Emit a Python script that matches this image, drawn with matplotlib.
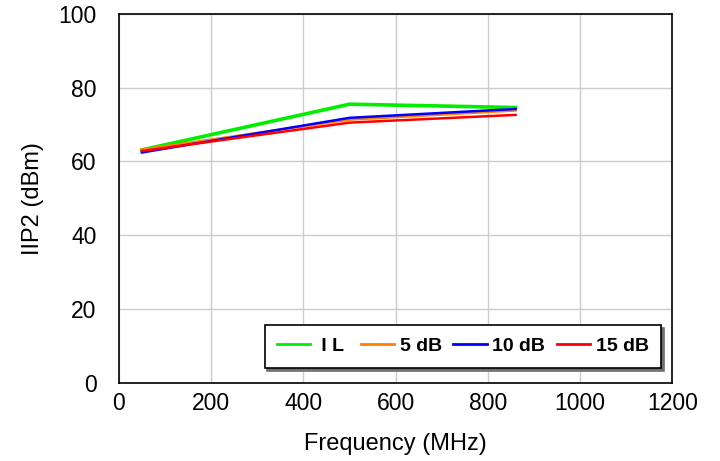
import numpy as np
import matplotlib.pyplot as plt

# frequency points (MHz)
freq = [50, 500, 860]

# IIP2 values (dBm)
iip2_il = [63.1, 75.5, 74.6]
iip2_5db = [63.2, 71.3, 73.8]
iip2_10db = [62.4, 71.8, 74.2]
iip2_15db = [62.8, 70.5, 72.6]

labels = [" I L ", "5 dB", "10 dB", "15 dB"]
colors = ["#00EE00", "#FF8000", "#0000FF", "#FF0000"]

plt.rcParams['font.family'] = ['Liberation Sans', 'DejaVu Sans']

fig = plt.figure(figsize=(7.2, 4.61), dpi=100)
ax = fig.add_axes([0.165, 0.170, 0.769, 0.800])

ax.plot(freq, iip2_il, color=colors[0], lw=2.6, label=labels[0], zorder=3)
ax.plot(freq, iip2_5db, color=colors[1], lw=1.8, label=labels[1], zorder=3)
ax.plot(freq, iip2_10db, color=colors[2], lw=1.8, label=labels[2], zorder=3)
ax.plot(freq, iip2_15db, color=colors[3], lw=1.8, label=labels[3], zorder=4)

ax.set_xlim(0, 1200)
ax.set_ylim(0, 100)
ax.set_xticks(np.arange(0, 1201, 200))
ax.set_yticks(np.arange(0, 101, 20))
ax.grid(True, color="#cccccc", lw=1.0)
ax.set_axisbelow(True)
ax.tick_params(length=0, labelsize=16.5)
ax.tick_params(axis='y', pad=16)
ax.tick_params(axis='x', pad=7)
for sp in ax.spines.values():
    sp.set_color("black")
    sp.set_linewidth(1.2)

ax.set_xlabel("Frequency (MHz)", fontsize=17, labelpad=13)
ax.set_ylabel("IIP2 (dBm)", fontsize=17, labelpad=10)

leg = ax.legend(loc="lower right", ncol=4, fancybox=False, shadow={'color': '#707070', 'alpha': 1},
                edgecolor="black", framealpha=1, prop={'weight': 'bold', 'size': 14},
                handlelength=1.7, handletextpad=0.3, columnspacing=0.6,
                bbox_to_anchor=(0.98, 0.04), borderaxespad=0, borderpad=0.65)
leg.get_frame().set_linewidth(1.2)
for h in leg.get_lines():
    h.set_linewidth(2.0)

fig.savefig("out.png", dpi=100)
